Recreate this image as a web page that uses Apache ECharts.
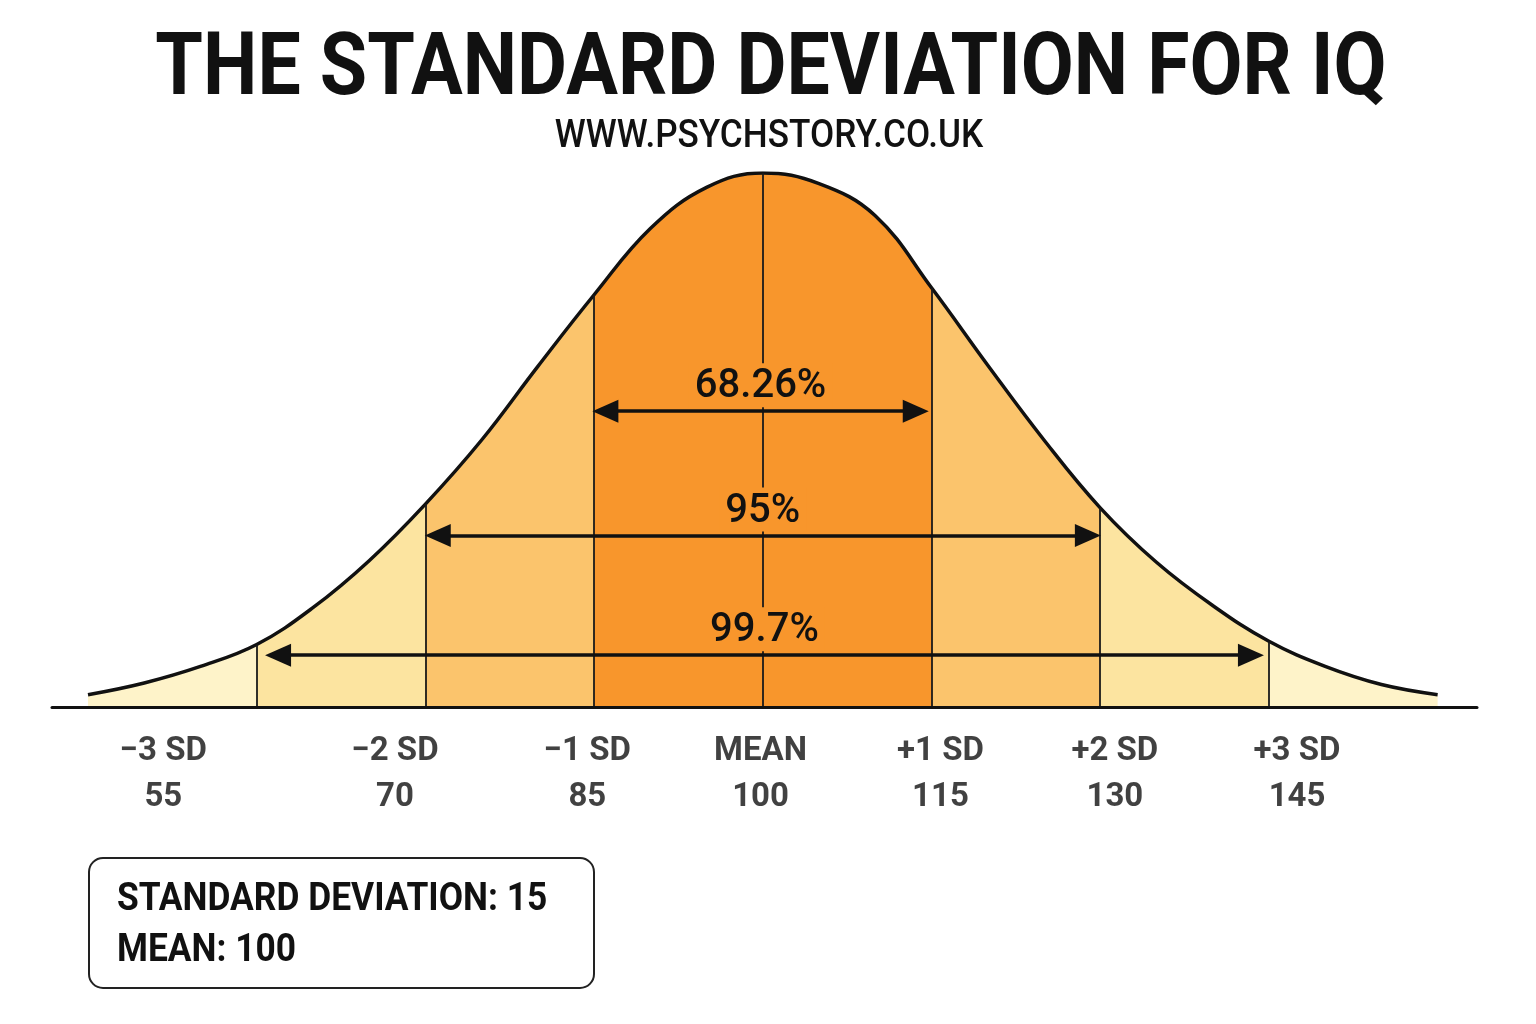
<!DOCTYPE html>
<html>
<head>
<meta charset="utf-8">
<title>The Standard Deviation for IQ</title>
<script src="https://cdn.jsdelivr.net/npm/echarts@6/dist/echarts.min.js"></script>
<style>
  html, body { margin: 0; padding: 0; background: #fff; }
  #main { width: 1536px; height: 1024px; }
</style>
</head>
<body>
<div id="main"></div>
<script>
// bell curve: IQ score -> height (peak = 100)
const curveX = [40, 45, 50, 55, 60, 65, 70, 75, 80, 85, 90, 95, 100, 105, 110, 115, 120, 125, 130, 135, 140, 145, 150, 155, 160];
const curveY = [2.3, 4.5, 7.6, 11.7, 18.6, 27.4, 38.0, 50.0, 63.8, 77.2, 89.6, 97.3, 100, 98.0, 92.0, 78.5, 64.0, 50.0, 37.3, 27.1, 19.0, 12.3, 7.6, 4.2, 2.3];

// sd boundaries and the fill of each band between them
const sdLines = [55, 70, 85, 100, 115, 130, 145];
const bandColors = ["#FEF3C9", "#FCE4A0", "#FBC46C", "#F8962C", "#F8962C", "#FBC46C", "#FCE4A0", "#FEF3C9"];

// labels under the axis
const tickNames = ["−3 SD", "−2 SD", "−1 SD", "MEAN", "+1 SD", "+2 SD", "+3 SD"];
const tickValues = ["55", "70", "85", "100", "115", "130", "145"];
const tickAt = [46.7, 67.3, 84.4, 99.8, 115.8, 131.3, 147.5];

// percentage arrows
const arrowLabels = ["68.26%", "95%", "99.7%"];
const arrowFrom = [86.0, 71.1, 56.9];
const arrowTo = [113.6, 128.9, 143.4];
const arrowLevel = [55.4, 32.1, 9.7];

const chart = echarts.init(document.getElementById("main"));

const curve = curveX.map((x, i) => [x, curveY[i]]);

const pieces = bandColors.map((c, i) => {
  const p = { color: c };
  if (i > 0) p.gte = sdLines[i - 1];
  if (i < sdLines.length) p.lt = sdLines[i];
  return p;
});

const font = "Roboto";

var option = {
  backgroundColor: "#ffffff",
  animation: false,
  grid: { left: 52, right: 59, top: 173, bottom: 317 },
  xAxis: {
    type: "value",
    min: 36.8,
    max: 163.5,
    z: 10,
    axisLine: { lineStyle: { color: "#111", width: 3 } },
    axisTick: { show: false },
    axisLabel: { show: false },
    splitLine: { show: false },
  },
  yAxis: { type: "value", min: 0, max: 100, show: false },
  visualMap: {
    show: false,
    type: "piecewise",
    dimension: 0,
    seriesIndex: 0,
    pieces: pieces,
  },
  series: [
    {
      // coloured bands
      type: "line",
      data: curve,
      smooth: 0.4,
      showSymbol: false,
      lineStyle: { width: 0 },
      areaStyle: { opacity: 1 },
      z: 1,
    },
    {
      // outline + sd lines
      type: "line",
      data: curve,
      smooth: 0.4,
      showSymbol: false,
      lineStyle: { color: "#111", width: 3.5 },
      z: 3,
      markLine: {
        silent: true,
        symbol: "none",
        label: { show: false },
        lineStyle: { color: "#1a1a1a", width: 1.8, type: "solid" },
        data: sdLines.map((x) => [
          { coord: [x, 0] },
          { coord: [x, curveY[curveX.indexOf(x)]] },
        ]),
      },
    },
    {
      // axis labels + arrows
      type: "scatter",
      data: tickAt.map((x) => [x, 0]),
      symbolSize: 0,
      z: 5,
      label: {
        show: true,
        position: "bottom",
        distance: 22,
        formatter: (p) => tickNames[p.dataIndex] + "\n" + tickValues[p.dataIndex],
        fontFamily: font,
        fontSize: 33,
        fontWeight: "bold",
        lineHeight: 46,
        color: "#111",
        align: "center",
      },
      markLine: {
        silent: true,
        symbol: ["triangle", "triangle"],
        symbolSize: [23, 26],
        lineStyle: { color: "#111", width: 3.5, type: "solid" },
        label: {
          show: true,
          position: "insideMiddleTop",
          distance: 4,
          formatter: "{b}",
          fontFamily: font,
          fontSize: 40,
          fontWeight: 500,
          color: "#111",
          backgroundColor: "#F8962C",
          padding: [4, 6, 0, 6],
        },
        data: arrowLabels.map((name, i) => [
          { name: name, coord: [arrowFrom[i], arrowLevel[i]] },
          { coord: [arrowTo[i], arrowLevel[i]] },
        ]),
      },
    },
  ],
  graphic: [
    {
      type: "text",
      x: 771,
      y: 72,
      scaleX: 0.885,
      style: {
        text: "THE STANDARD DEVIATION FOR IQ",
        fontFamily: font,
        fontSize: 87,
        fontWeight: "bold",
        fill: "#111",
        align: "center",
        verticalAlign: "middle",
      },
    },
    {
      type: "text",
      x: 769,
      y: 137,
      scaleX: 0.925,
      style: {
        text: "WWW.PSYCHSTORY.CO.UK",
        fontFamily: font,
        fontSize: 38,
        fontWeight: 500,
        fill: "#111",
        align: "center",
        verticalAlign: "middle",
      },
    },
    {
      type: "rect",
      shape: { x: 89, y: 858, width: 505, height: 130, r: 14 },
      style: { fill: "#fff", stroke: "#222", lineWidth: 2 },
    },
    {
      type: "text",
      x: 117,
      y: 900,
      scaleX: 0.93,
      style: {
        text: "STANDARD DEVIATION: 15",
        fontFamily: font,
        fontSize: 38,
        fontWeight: "bold",
        fill: "#111",
        align: "left",
        verticalAlign: "middle",
      },
    },
    {
      type: "text",
      x: 117,
      y: 951,
      scaleX: 0.93,
      style: {
        text: "MEAN: 100",
        fontFamily: font,
        fontSize: 38,
        fontWeight: "bold",
        fill: "#111",
        align: "left",
        verticalAlign: "middle",
      },
    },
  ],
};

chart.setOption(option);
window.addEventListener("resize", function () {
  chart.resize();
});
</script>
</body>
</html>
